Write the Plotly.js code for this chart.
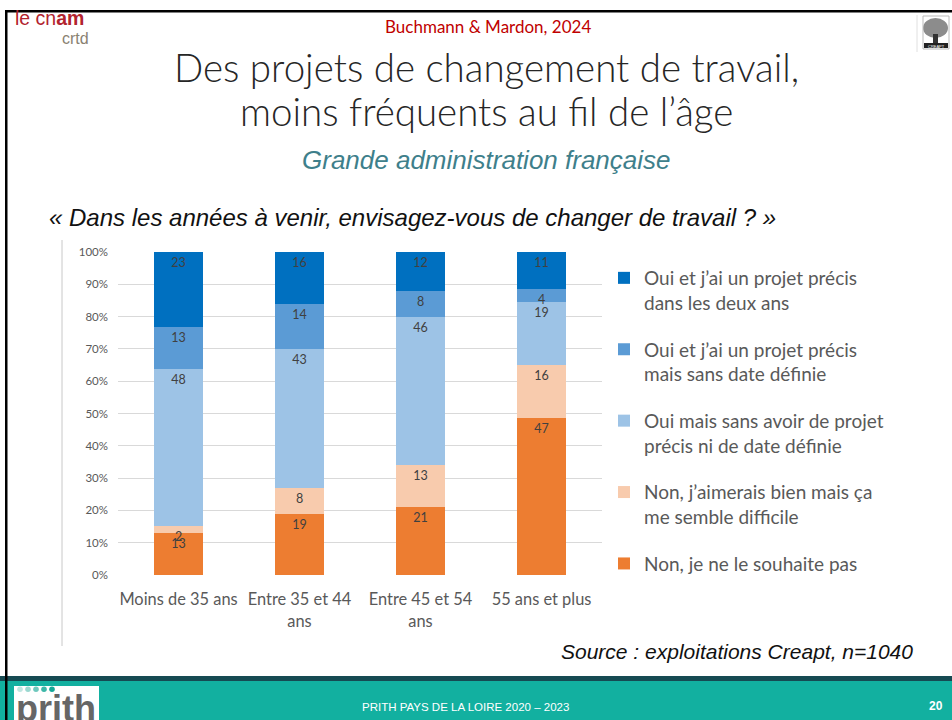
<!DOCTYPE html>
<html>
<head>
<meta charset="utf-8">
<script src="https://cdn.plot.ly/plotly-3.0.1.min.js"></script>
<style>
html,body{margin:0;padding:0;background:#fff;}
#chart{width:952px;height:720px;}
</style>
</head>
<body>
<div id="chart"></div>
<script>
// ---- Data ----
const categories = ["Moins de 35 ans", "Entre 35 et 44<br>ans", "Entre 45 et 54<br>ans", "55 ans et plus"];
const seriesNames = [
  "Non, je ne le souhaite pas",
  "Non, j’aimerais bien mais ça<br>me semble difficile",
  "Oui mais sans avoir de projet<br>précis ni de date définie",
  "Oui et j’ai un projet précis<br>mais sans date définie",
  "Oui et j’ai un projet précis<br>dans les deux ans"
];
const nonPasSouhaite   = [13, 19, 21, 47];
const nonDifficile     = [2, 8, 13, 16];
const ouiSansProjet    = [48, 43, 46, 19];
const ouiSansDate      = [13, 14, 8, 4];
const ouiDeuxAns       = [23, 16, 12, 11];
const yTickVals = [0, 10, 20, 30, 40, 50, 60, 70, 80, 90, 100];
const yTickText = yTickVals.map(v => v + "%");

const seriesValues = [nonPasSouhaite, nonDifficile, ouiSansProjet, ouiSansDate, ouiDeuxAns];
const colors = ["#ED7D31", "#F8CBAD", "#9DC3E6", "#5B9BD5", "#0070C0"];

const FONT = "Lato, 'Open Sans', sans-serif";
const ARIAL = "'Liberation Sans', Arial, sans-serif";

const traces = seriesValues.map((vals, i) => ({
  type: "bar",
  name: seriesNames[i],
  legendgroup: "g" + i,
  legendrank: 10 - i,
  x: categories,
  y: vals,
  text: vals.map(String),
  textposition: "inside",
  insidetextanchor: "end",
  textangle: 0,
  constraintext: "none",
  textfont: {family: FONT, size: 12.5, color: "#404040"},
  marker: {color: colors[i], line: {width: 0}},
  hoverinfo: "skip"
}));

// pixel -> paper helpers for page decoration
const L = 118, T = 252, W = 484, H = 323;
const px = x => (x - L) / W;
const py = y => (T + H - y) / H;

const shapes = [
  // footer
  {type: "rect", xref: "paper", yref: "paper", x0: px(0), x1: px(952), y0: py(681), y1: py(720), fillcolor: "#12B0A0", line: {width: 0}, layer: "below"},
  {type: "rect", xref: "paper", yref: "paper", x0: px(0), x1: px(952), y0: py(676), y1: py(681), fillcolor: "#164A52", line: {width: 0}, layer: "below"},
  // prith logo box
  {type: "rect", xref: "paper", yref: "paper", x0: px(14), x1: px(99), y0: py(686), y1: py(720), fillcolor: "#ffffff", line: {width: 0}},
  // frame
  {type: "rect", xref: "paper", yref: "paper", x0: px(5), x1: px(7.5), y0: py(10), y1: py(720), fillcolor: "#000", line: {width: 0}},
  {type: "rect", xref: "paper", yref: "paper", x0: px(5), x1: px(952), y0: py(10), y1: py(12.5), fillcolor: "#000", line: {width: 0}},
  // thin grey vertical line
  {type: "line", xref: "paper", yref: "paper", x0: px(62), x1: px(62), y0: py(240), y1: py(646), line: {color: "#c8c8c8", width: 1}},
  // creapt separator
  {type: "line", xref: "paper", yref: "paper", x0: px(917), x1: px(917), y0: py(15), y1: py(52), line: {color: "#e0e0e0", width: 1}},
  // creapt tree
  {type: "circle", xref: "paper", yref: "paper", x0: px(923), x1: px(948), y0: py(18), y1: py(38), fillcolor: "#8c8c8c", line: {width: 0}},
  {type: "rect", xref: "paper", yref: "paper", x0: px(933), x1: px(938), y0: py(34), y1: py(44), fillcolor: "#333", line: {width: 0}},
  {type: "rect", xref: "paper", yref: "paper", x0: px(924), x1: px(948), y0: py(43), y1: py(48), fillcolor: "#222", line: {width: 0}},
  {type: "rect", xref: "paper", yref: "paper", x0: px(923), x1: px(949), y0: py(16), y1: py(49), fillcolor: "rgba(0,0,0,0)", line: {color: "#bbb", width: 1}}
];
// prith dots
const dotColors = ["#bfe6e1", "#9ad8d0", "#6fc8bd", "#3db7a8", "#14a897"];
dotColors.forEach((c, i) => {
  const cx = 20 + i * 8;
  shapes.push({type: "circle", xref: "paper", yref: "paper", x0: px(cx - 2.8), x1: px(cx + 2.8), y0: py(686.5), y1: py(692), fillcolor: c, line: {width: 0}});
});

const ann = (x, y, text, opts) => Object.assign({
  xref: "paper", yref: "paper", x: px(x), y: py(y), text: text, showarrow: false,
  xanchor: "center", yanchor: "middle"
}, opts || {});

const annotations = [
  ann(13, 18, "le cn<b>am</b>", {xanchor: "left", font: {family: ARIAL, size: 19.5, color: "#B2232E"}}),
  ann(60, 38.5, "crtd", {xanchor: "left", font: {family: ARIAL, size: 16, color: "#8a8272"}}),
  ann(488, 27, "Buchmann &amp; Mardon, 2024", {font: {family: FONT, size: 17, color: "#C00000"}}),
  ann(486, 67, "Des projets de changement de travail,", {font: {family: FONT, size: 38.5, color: "#262626", weight: 300}}),
  ann(486, 111, "moins fréquents au fil de l’âge", {font: {family: FONT, size: 38.5, color: "#262626", weight: 300}}),
  ann(486, 160, "<i>Grande administration française</i>", {font: {family: ARIAL, size: 26, color: "#3E7F8B"}}),
  ann(47, 217, "<i>« Dans les années à venir, envisagez-vous de changer de travail ? »</i>", {xanchor: "left", font: {family: ARIAL, size: 24, color: "#111"}}),
  ann(915, 651, "<i>Source : exploitations Creapt, n=1040</i>", {xanchor: "right", font: {family: ARIAL, size: 21, color: "#111"}}),
  ann(465, 707, "PRITH PAYS DE LA LOIRE 2020 – 2023", {font: {family: ARIAL, size: 11.5, color: "#ffffff"}}),
  ann(936, 706, "<b>20</b>", {font: {family: ARIAL, size: 12, color: "#ffffff"}}),
  ann(14, 708, "<b>prith</b>", {xanchor: "left", font: {family: ARIAL, size: 36, color: "#666666"}}),
  ann(936, 46, "CREAPT", {font: {family: ARIAL, size: 4, color: "#fff"}})
];

const layout = {
  width: 952, height: 720,
  margin: {l: L, r: 952 - L - W, t: T, b: 720 - T - H, pad: 0},
  paper_bgcolor: "#ffffff",
  plot_bgcolor: "#ffffff",
  barmode: "stack",
  barnorm: "percent",
  bargap: 0.6,
  showlegend: true,
  legend: {
    x: px(604), y: py(259), xanchor: "left", yanchor: "top",
    traceorder: "grouped",
    tracegroupgap: 19,
    valign: "top",
    maxheight: 420,
    font: {family: FONT, size: 19, color: "#595959"},
    bgcolor: "rgba(0,0,0,0)"
  },
  xaxis: {
    type: "category",
    showgrid: false, zeroline: false, showline: false,
    ticks: "",
    tickfont: {family: FONT, size: 16.4, color: "#595959"},
    ticklabelstandoff: 13,
    fixedrange: true
  },
  yaxis: {
    range: [0, 100],
    tickmode: "array",
    tickvals: yTickVals,
    ticktext: yTickText,
    showgrid: true, gridcolor: "#D9D9D9", gridwidth: 1,
    zeroline: false, showline: false,
    ticks: "",
    tickfont: {family: FONT, size: 11.5, color: "#595959"},
    ticklabelstandoff: 9,
    fixedrange: true
  },
  shapes: shapes,
  annotations: annotations
};

Plotly.newPlot("chart", traces, layout, {staticPlot: true, displayModeBar: false});
</script>
</body>
</html>
